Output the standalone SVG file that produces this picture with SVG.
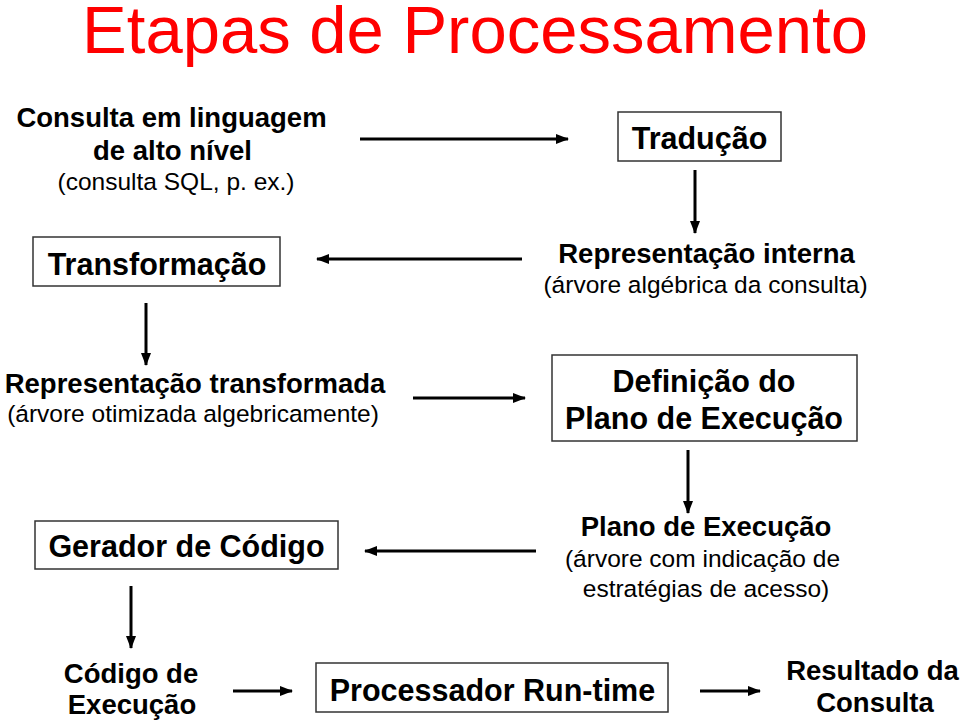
<svg xmlns="http://www.w3.org/2000/svg" width="960" height="723" viewBox="0 0 960 723">
<defs>
<marker id="ah" markerUnits="userSpaceOnUse" markerWidth="13" markerHeight="10" refX="12" refY="5" orient="auto">
<path d="M0,0 L13,5 L0,10 z" fill="#000"/>
</marker>
</defs>
<style>
text{font-family:"Liberation Sans",Arial,Helvetica,sans-serif;fill:#000;text-anchor:middle}
.t{font-size:67px;fill:#ff0000}
.b{font-size:27.5px;font-weight:bold}
.bb{font-size:30.5px;font-weight:bold}
.r{font-size:24.5px}
.box{fill:#fff;stroke:#333;stroke-width:1.5}
.c{stroke:#000;stroke-width:3;fill:none;marker-end:url(#ah)}
</style>
<rect width="960" height="723" fill="#fff"/>
<text class="t" x="475" y="53">Etapas de Processamento</text>

<g id="consulta">
<text class="b" x="171.5" y="127">Consulta em linguagem</text>
<text class="b" x="172.5" y="160">de alto nível</text>
<text class="r" x="176" y="190">(consulta SQL, p. ex.)</text>
</g>
<g id="traducao">
<rect class="box" x="618" y="112" width="163" height="49"/>
<text class="bb" x="699.5" y="149">Tradução</text>
</g>
<g id="repinterna">
<text class="b" x="706.5" y="263">Representação interna</text>
<text class="r" x="705.5" y="293">(árvore algébrica da consulta)</text>
</g>
<g id="transformacao">
<rect class="box" x="33" y="237" width="247" height="49"/>
<text class="bb" x="157" y="275">Transformação</text>
</g>
<g id="reptransformada">
<text class="b" x="195" y="393">Representação transformada</text>
<text class="r" x="193" y="422">(árvore otimizada algebricamente)</text>
</g>
<g id="definicao">
<rect class="box" x="552" y="355" width="305" height="86"/>
<text class="bb" x="704" y="392">Definição do</text>
<text class="bb" x="704" y="429">Plano de Execução</text>
</g>
<g id="plano">
<text class="b" x="706" y="536">Plano de Execução</text>
<text class="r" x="702.5" y="567">(árvore com indicação de</text>
<text class="r" x="706" y="597">estratégias de acesso)</text>
</g>
<g id="gerador">
<rect class="box" x="35" y="521" width="303" height="48"/>
<text class="bb" x="186.5" y="557">Gerador de Código</text>
</g>
<g id="codigo">
<text class="b" x="131" y="683">Código de</text>
<text class="b" x="132" y="714">Execução</text>
</g>
<g id="processador">
<rect class="box" x="316" y="663" width="352" height="49"/>
<text class="bb" x="492.5" y="701">Processador Run-time</text>
</g>
<g id="resultado">
<text class="b" x="872.5" y="680">Resultado da</text>
<text class="b" x="875" y="712">Consulta</text>
</g>

<g id="connectors">
<line class="c" x1="360" y1="139" x2="568" y2="139"/>
<line class="c" x1="695" y1="170" x2="695" y2="233"/>
<line class="c" x1="522" y1="259" x2="317" y2="259"/>
<line class="c" x1="146" y1="303" x2="146" y2="365"/>
<line class="c" x1="413" y1="398" x2="525" y2="398"/>
<line class="c" x1="688" y1="450" x2="688" y2="513"/>
<line class="c" x1="536" y1="551" x2="365" y2="551"/>
<line class="c" x1="131" y1="586" x2="131" y2="648"/>
<line class="c" x1="233" y1="691" x2="292" y2="691"/>
<line class="c" x1="700" y1="691" x2="760" y2="691"/>
</g>
</svg>
